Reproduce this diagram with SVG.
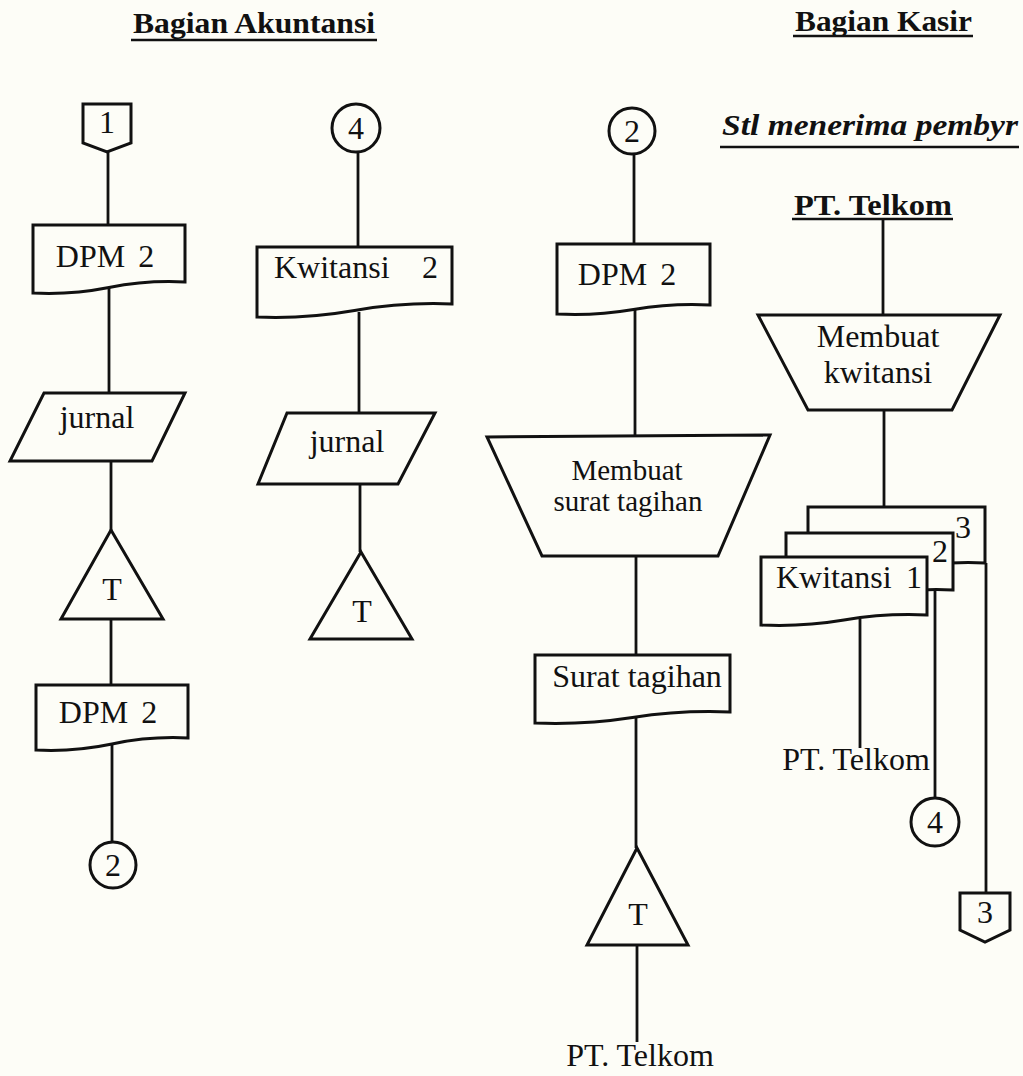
<svg xmlns="http://www.w3.org/2000/svg" width="1023" height="1076" viewBox="0 0 1023 1076">
<style>
.bg{fill:#fdfdf7}
.shape{fill:#fdfdf7;stroke:#111;stroke-width:3;stroke-linejoin:miter}
.conn line{stroke:#111;stroke-width:2.8}
.ul{stroke:#111;stroke-width:2.5}
text{font-family:"Liberation Serif","Times New Roman",serif;fill:#111}
.lbl{font-size:32px;text-anchor:middle}
.lbls{font-size:32px}
.lbl2{font-size:29px;text-anchor:middle}
.hdr{font-size:30px;font-weight:bold}
.hdri{font-size:30px;font-weight:bold;font-style:italic}
.dpm{word-spacing:5px}
</style>
<rect class="bg" x="0" y="0" width="1023" height="1076"/>

<g id="headers">
<text class="hdr" x="133" y="33" textLength="242" lengthAdjust="spacingAndGlyphs">Bagian Akuntansi</text>
<line class="ul" x1="131" y1="40" x2="377" y2="40"/>
<text class="hdr" x="795" y="31" textLength="177" lengthAdjust="spacingAndGlyphs">Bagian Kasir</text>
<line class="ul" x1="793" y1="36" x2="973" y2="36"/>
<text class="hdri" x="722" y="135" textLength="296" lengthAdjust="spacingAndGlyphs">Stl menerima pembyr</text>
<line class="ul" x1="720" y1="147" x2="1019" y2="147"/>
</g>

<g class="conn" id="connectors">
<line x1="108" y1="152" x2="108" y2="225"/>
<line x1="109" y1="288" x2="109" y2="393"/>
<line x1="111" y1="461" x2="111" y2="530"/>
<line x1="111" y1="619" x2="111" y2="685"/>
<line x1="112" y1="744" x2="112" y2="842"/>
<line x1="358" y1="152" x2="358" y2="247"/>
<line x1="359" y1="312" x2="359" y2="413"/>
<line x1="360" y1="484" x2="360" y2="552"/>
<line x1="634" y1="154" x2="634" y2="244"/>
<line x1="635" y1="310" x2="635" y2="436"/>
<line x1="636" y1="556" x2="636" y2="655"/>
<line x1="636" y1="718" x2="636" y2="848"/>
<line x1="637" y1="945" x2="637" y2="1042"/>
<line x1="883" y1="220" x2="883" y2="315"/>
<line x1="884" y1="410" x2="884" y2="507"/>
<line x1="860" y1="619" x2="860" y2="748"/>
<line x1="935" y1="590" x2="935" y2="798"/>
<line x1="986" y1="563" x2="986" y2="893"/>
</g>

<g id="n-off1">
<path class="shape" d="M83,104 H131 V143 L107,152 L83,143 Z"/>
<text class="lbl" x="107" y="133">1</text>
</g>
<g id="n-dpm-a">
<path class="shape" d="M33,225 H185 V282 Q147,280 109,287.5 T33,293 Z"/>
<text class="lbl dpm" x="105" y="267">DPM 2</text>
</g>
<g id="n-jurnal-a">
<path class="shape" d="M44,393 H185 L152,461 H10 Z"/>
<text class="lbl" x="97" y="428">jurnal</text>
</g>
<g id="n-t-a">
<path class="shape" d="M111,530 L163,619 H61 Z"/>
<text class="lbl" x="112" y="600">T</text>
</g>
<g id="n-dpm-b">
<path class="shape" d="M36,685 H188 V738 Q150,736 112,744 T36,750 Z"/>
<text class="lbl dpm" x="108" y="723">DPM 2</text>
</g>
<g id="n-circle2-a">
<circle class="shape" cx="113" cy="865" r="23"/>
<text class="lbl" x="113" y="876">2</text>
</g>

<g id="n-circle4-a">
<circle class="shape" cx="356" cy="128" r="24"/>
<text class="lbl" x="356" y="139">4</text>
</g>
<g id="n-kwitansi2">
<path class="shape" d="M257,247 H452 V304 Q403,302 354.5,310.5 T257,317 Z"/>
<text class="lbls" x="274" y="278">Kwitansi<tspan x="422">2</tspan></text>
</g>
<g id="n-jurnal-b">
<path class="shape" d="M287,413 H435 L398,484 H258 Z"/>
<text class="lbl" x="347" y="452">jurnal</text>
</g>
<g id="n-t-b">
<path class="shape" d="M361,552 L412,639 H310 Z"/>
<text class="lbl" x="362" y="622">T</text>
</g>

<g id="n-circle2-b">
<circle class="shape" cx="632" cy="131" r="23"/>
<text class="lbl" x="632" y="142">2</text>
</g>
<g id="n-dpm-c">
<path class="shape" d="M557,244 H710 V305 Q672,303 633.5,309.5 T557,314 Z"/>
<text class="lbl dpm" x="627" y="285">DPM 2</text>
</g>
<g id="n-membuat-surat">
<path class="shape" d="M487,437 L770,435 L718,556 H542 Z"/>
<text class="lbl2" x="627" y="480">Membuat</text>
<text class="lbl2" x="628" y="511">surat tagihan</text>
</g>
<g id="n-surat-tagihan">
<path class="shape" d="M535,655 H730 V712 Q681,710 632.5,717.5 T535,723 Z"/>
<text class="lbl" x="637" y="687">Surat tagihan</text>
</g>
<g id="n-t-c">
<path class="shape" d="M637,848 L688,945 H587 Z"/>
<text class="lbl" x="638" y="925">T</text>
</g>
<g id="n-ptt-bottom">
<text class="lbl" x="640" y="1066">PT. Telkom</text>
</g>

<g id="n-ptt-top">
<text class="hdr" x="794" y="215" textLength="158" lengthAdjust="spacingAndGlyphs">PT. Telkom</text>
<line class="ul" x1="792" y1="219" x2="953" y2="219"/>
</g>
<g id="n-membuat-kwitansi">
<path class="shape" d="M758,315 H1000 L952,410 H808 Z"/>
<text class="lbl" x="878" y="347">Membuat</text>
<text class="lbl" x="878" y="383">kwitansi</text>
</g>
<g id="n-kwitansi-stack">
<path class="shape" d="M808,507 H985 V563 Q941,561 896.5,569.5 T808,576 Z"/>
<text class="lbls" x="955" y="538">3</text>
<path class="shape" d="M786,533 H953 V590 Q911,588 869.5,596 T786,602 Z"/>
<text class="lbls" x="932" y="562">2</text>
<path class="shape" d="M761,557 H927 V615 Q885.5,613 844,620 T761,625 Z"/>
<text class="lbls" x="776" y="588">Kwitansi<tspan x="906">1</tspan></text>
</g>
<g id="n-ptt-mid">
<text class="lbl" x="856" y="770">PT. Telkom</text>
</g>
<g id="n-circle4-b">
<circle class="shape" cx="935" cy="822" r="24"/>
<text class="lbl" x="935" y="833">4</text>
</g>
<g id="n-off3">
<path class="shape" d="M960,893 H1010 V930 L985,942 L960,930 Z"/>
<text class="lbl" x="985" y="923">3</text>
</g>
</svg>
